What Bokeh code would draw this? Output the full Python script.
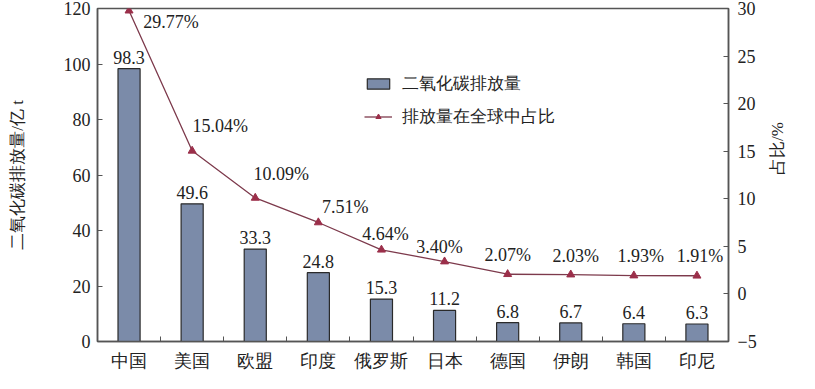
import math
from bokeh.plotting import figure
from bokeh.models import Range1d, LinearAxis, FixedTicker, Legend, LegendItem
from bokeh.core.properties import value
from bokeh.embed import file_html
from bokeh.resources import INLINE

# ---- data ----
categories = ["中国", "美国", "欧盟", "印度", "俄罗斯", "日本", "德国", "伊朗", "韩国", "印尼"]
co2_emissions = [98.3, 49.6, 33.3, 24.8, 15.3, 11.2, 6.8, 6.7, 6.4, 6.3]   # 亿 t
global_share = [29.77, 15.04, 10.09, 7.51, 4.64, 3.40, 2.07, 2.03, 1.93, 1.91]  # %
left_ticks = [0, 20, 40, 60, 80, 100, 120]
right_ticks = [-5, 0, 5, 10, 15, 20, 25, 30]

# ---- label placement (screen px, styling only) ----
pct_dx = [42, 28, 26, 27, 4, -5, 0, 5, 7, 3]
pct_dy = [11, -25, -24, -15, -16, -15, -19, -19, -20, -20]

SERIF = "Liberation Serif"
TXT = "#222222"
AX = "#555555"
BAR_FILL = "#7b8ba9"
LINE_COL = "#7d3a4c"
MARK_COL = "#9b2f4a"

n = len(categories)
xs = [i + 0.5 for i in range(n)]

p = figure(width=799, height=373, output_backend="svg", toolbar_location=None,
           x_range=Range1d(0, n), y_range=Range1d(0, 120),
           min_border_left=97, min_border_right=71, min_border_top=8, min_border_bottom=26)
p.extra_y_ranges = {"pct": Range1d(-5, 30)}
p.xgrid.visible = False
p.ygrid.visible = False
p.outline_line_color = AX
p.outline_line_width = 1.5
p.background_fill_color = "white"
p.border_fill_color = "white"

bars = p.vbar(x=xs, top=co2_emissions, width=0.35, fill_color=BAR_FILL,
              line_color="#2a2a2a", line_width=1.2)
ln = p.line(x=xs, y=global_share, y_range_name="pct", line_color=LINE_COL, line_width=1.3)
mk = p.scatter(x=xs, y=global_share, y_range_name="pct", marker="triangle", size=8,
               fill_color=MARK_COL, line_color=MARK_COL)

p.text(x=xs, y=co2_emissions, text=[f"{v:.1f}" for v in co2_emissions],
       text_align="center", text_baseline="bottom", y_offset=-5,
       text_font=value(SERIF), text_font_size="18px", text_color=TXT)
p.text(x=xs, y=global_share, y_range_name="pct", text=[f"{v:.2f}%" for v in global_share],
       x_offset=pct_dx, y_offset=pct_dy, text_align="center", text_baseline="middle",
       text_font=value(SERIF), text_font_size="18px", text_color=TXT)

xa = p.xaxis[0]
xa.ticker = FixedTicker(ticks=xs, minor_ticks=[i for i in range(1, n)])
xa.major_label_overrides = {x: c for x, c in zip(xs, categories)}
xa.major_tick_line_color = None
xa.minor_tick_in = 5
xa.minor_tick_out = 0
xa.minor_tick_line_color = AX
xa.axis_line_color = AX
xa.axis_line_width = 1.5
xa.major_label_standoff = 3
xa.major_label_text_font = SERIF
xa.major_label_text_font_size = "18px"
xa.major_label_text_color = TXT

ya = p.yaxis[0]
ya.ticker = FixedTicker(ticks=left_ticks)
ya.major_tick_in = 5
ya.major_tick_out = 0
ya.minor_tick_line_color = None
ya.major_tick_line_color = AX
ya.axis_line_color = AX
ya.axis_line_width = 1.5
ya.major_label_standoff = 7
ya.major_label_text_font = SERIF
ya.major_label_text_font_size = "18px"
ya.major_label_text_color = TXT
ya.axis_label = "二氧化碳排放量/亿 t"
ya.axis_label_standoff = 34
ya.axis_label_text_font = SERIF
ya.axis_label_text_font_size = "17px"
ya.axis_label_text_font_style = "normal"
ya.axis_label_text_color = TXT

ra = LinearAxis(y_range_name="pct", ticker=FixedTicker(ticks=right_ticks))
ra.major_label_overrides = {t: str(t).replace("-", "\u2212") for t in right_ticks}
ra.major_tick_in = 5
ra.major_tick_out = 0
ra.minor_tick_line_color = None
ra.major_tick_line_color = AX
ra.axis_line_color = AX
ra.axis_line_width = 1.5
ra.major_label_standoff = 9
ra.major_label_text_font = SERIF
ra.major_label_text_font_size = "18px"
ra.major_label_text_color = TXT
ra.axis_label = "占比/%"
ra.axis_label_orientation = math.pi / 2
ra.axis_label_standoff = 18
ra.axis_label_text_font = SERIF
ra.axis_label_text_font_size = "17px"
ra.axis_label_text_font_style = "normal"
ra.axis_label_text_color = TXT
p.add_layout(ra, "right")

legend = Legend(items=[LegendItem(label="二氧化碳排放量", renderers=[bars]),
                       LegendItem(label="排放量在全球中占比", renderers=[ln, mk])],
                location=(267, 213), orientation="vertical")
legend.padding = 0
legend.margin = 0
legend.spacing = 10
legend.border_line_color = None
legend.background_fill_alpha = 0
legend.glyph_width = 28
legend.glyph_height = 13
legend.label_height = 20
legend.label_standoff = 10
legend.label_text_font = SERIF
legend.label_text_font_size = "17px"
legend.label_text_color = TXT
p.add_layout(legend, "center")

open("out.html", "w").write(file_html(p, INLINE))
